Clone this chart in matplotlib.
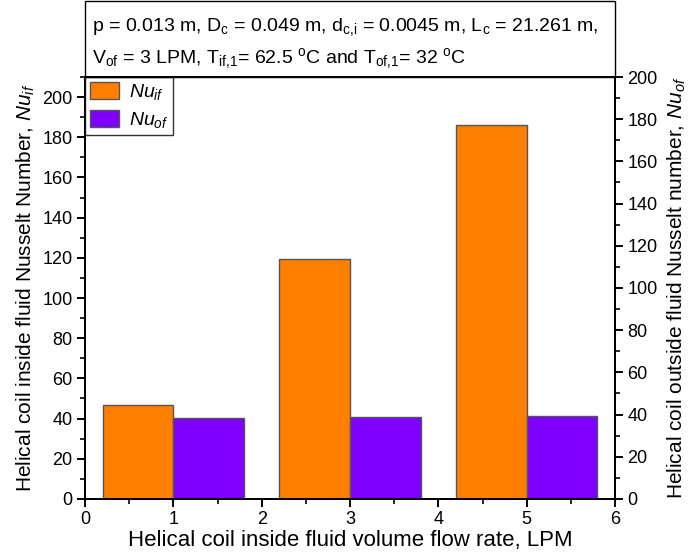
import matplotlib
matplotlib.use("Agg")
import matplotlib.pyplot as plt
from matplotlib.patches import Rectangle
from matplotlib.ticker import MultipleLocator

plt.rcParams['font.family'] = ['Liberation Sans', 'DejaVu Sans']
plt.rcParams['mathtext.fontset'] = 'custom'
plt.rcParams['mathtext.rm'] = 'Liberation Sans'
plt.rcParams['mathtext.it'] = 'Liberation Sans:italic'
plt.rcParams['mathtext.bf'] = 'Liberation Sans:bold'

flow_rates = [1, 3, 5]
nu_if = [46.8, 119.3, 186.0]
nu_of = [38.4, 38.8, 39.3]
xticks = [0, 1, 2, 3, 4, 5, 6]

fig = plt.figure(figsize=(6.95, 5.6), dpi=100)
ax = fig.add_axes([0.1223, 0.109, 0.7627, 0.7535])
ax2 = ax.twinx()

w = 0.8
ax.bar([x - w / 2 for x in flow_rates], nu_if, width=w, color='#FF8000',
       edgecolor='#555555', linewidth=1.0, label='$Nu_{if}$', zorder=2)
ax2.bar([x + w / 2 for x in flow_rates], nu_of, width=w, color='#8000FF',
        edgecolor='#555555', linewidth=1.0, label='$Nu_{of}$', zorder=2)

ax.set_xlim(0, 6)
ax.set_ylim(0, 210)
ax2.set_ylim(0, 200)
ax.set_xticks(xticks)
ax.xaxis.set_minor_locator(MultipleLocator(0.5))
ax.yaxis.set_major_locator(MultipleLocator(20))
ax.yaxis.set_minor_locator(MultipleLocator(10))
ax2.yaxis.set_major_locator(MultipleLocator(20))
ax2.yaxis.set_minor_locator(MultipleLocator(10))

for a in (ax, ax2):
    for s in a.spines.values():
        s.set_linewidth(1.4)
    a.tick_params(which='major', length=6, width=1.4, labelsize=13, direction='out', pad=3)
    a.tick_params(which='minor', length=3.5, width=1.2, direction='out')

ax.set_xlabel('Helical coil inside fluid volume flow rate, LPM', fontsize=16, labelpad=1)
ax.set_ylabel('Helical coil inside fluid Nusselt Number, $Nu_{if}$', fontsize=15, labelpad=4)
ax2.set_ylabel('Helical coil outside fluid Nusselt number, $Nu_{of}$', fontsize=15, labelpad=6)

h1, l1 = ax.get_legend_handles_labels()
h2, l2 = ax2.get_legend_handles_labels()
leg = ax2.legend(h1 + h2, l1 + l2, loc='upper left', fontsize=14, frameon=True,
                 fancybox=False, edgecolor='black', borderaxespad=0,
                 handlelength=1.5, handleheight=1.0, handletextpad=0.5,
                 borderpad=0.25, labelspacing=0.4)
leg.get_frame().set_linewidth(1.0)

# annotation box above axes
box = Rectangle((0.1223, 0.8625), 0.7627, 0.135, transform=fig.transFigure,
                fill=False, edgecolor='black', linewidth=1.0)
fig.patches.append(box)
fig.text(0.132, 0.952,
         r'p = 0.013 m, D$_\mathrm{c}$ = 0.049 m, d$_\mathrm{c{,}i}$ = 0.0045 m, L$_\mathrm{c}$ = 21.261 m,',
         fontsize=14, va='center', ha='left')
fig.text(0.132, 0.895,
         r'V$_\mathrm{of}$ = 3 LPM, T$_\mathrm{if{,}1}$= 62.5 $^\mathrm{o}$C and T$_\mathrm{of{,}1}$= 32 $^\mathrm{o}$C',
         fontsize=14, va='center', ha='left')

fig.savefig('out.png', dpi=100)
